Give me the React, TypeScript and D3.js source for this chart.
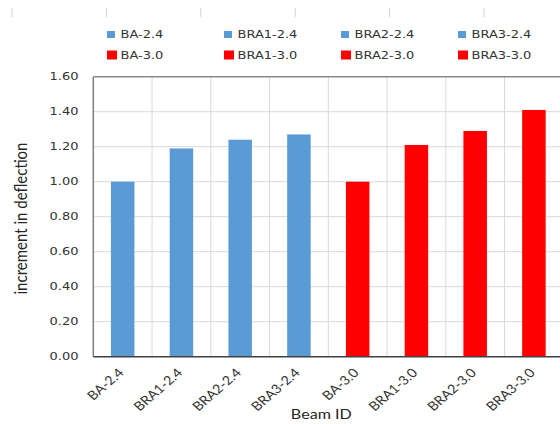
import React from "react";
import * as d3 from "d3";

// Beam deflection increments, normalised to the reference beam (BA)
const beams = ["BA-2.4", "BRA1-2.4", "BRA2-2.4", "BRA3-2.4", "BA-3.0", "BRA1-3.0", "BRA2-3.0", "BRA3-3.0"];
const increments = [1.0, 1.19, 1.24, 1.27, 1.0, 1.21, 1.29, 1.41];
const groups = ["2.4", "2.4", "2.4", "2.4", "3.0", "3.0", "3.0", "3.0"];
const yTicks = [0, 0.2, 0.4, 0.6, 0.8, 1.0, 1.2, 1.4, 1.6];

const W = 560;
const H = 424;
const plot = { left: 93.3, right: 563.3, top: 76.7, bottom: 356.7 };
const SX = 1.15; // horizontal stretch of the lettering

const colour = d3.scaleOrdinal<string, string>().domain(["2.4", "3.0"]).range(["#5b9bd5", "#ff0000"]);

export default function App() {
  const x = d3.scaleBand<string>().domain(beams).range([plot.left, plot.right]).padding(0);
  const y = d3.scaleLinear().domain([0, 1.6]).range([plot.bottom, plot.top]);
  const bw = x.bandwidth() * 0.4;

  const legendCol = d3.scaleLinear().domain([0, 1]).range([107, 224]);
  const legendRow = d3.scaleLinear().domain([0, 1]).range([34.5, 55]);

  // faint stray tick marks across the top edge
  const topTicks = d3.range(6).map((i) => 12 + i * 94.4);

  return (
    <div style={{ position: "absolute", left: 0, top: 0, width: W, height: H, overflow: "hidden", background: "#fff" }}>
      <svg width={W} height={H} style={{ display: "block" }}>
        <rect width={W} height={H} fill="#fff" />

        {topTicks.map((tx, i) => (
          <line key={"tt" + i} x1={tx} x2={tx} y1={8} y2={17} stroke="#d2d2d2" strokeWidth={1} />
        ))}

        {/* horizontal gridlines */}
        {yTicks.slice(1, -1).map((t) => (
          <line key={"hg" + t} x1={plot.left} x2={plot.right} y1={y(t)} y2={y(t)} stroke="#d9d9d9" strokeWidth={1} />
        ))}
        {/* vertical gridlines at category boundaries */}
        {beams.slice(1).map((b) => (
          <line key={"vg" + b} x1={x(b)!} x2={x(b)!} y1={plot.top} y2={plot.bottom} stroke="#d9d9d9" strokeWidth={1} />
        ))}

        {/* bars */}
        {beams.map((b, i) => (
          <rect
            key={"bar" + b}
            x={x(b)! + x.bandwidth() / 2 - bw / 2}
            y={y(increments[i])}
            width={bw}
            height={y(0) - y(increments[i])}
            fill={colour(groups[i])}
          />
        ))}

        {/* frame */}
        <line x1={plot.left} x2={plot.right} y1={plot.top} y2={plot.top} stroke="#8a8a8a" strokeWidth={1.5} />
        <line x1={plot.left} x2={plot.left} y1={plot.top} y2={plot.bottom} stroke="#7f7f7f" strokeWidth={1.5} />
        <line x1={plot.left} x2={plot.right} y1={plot.bottom} y2={plot.bottom} stroke="#404040" strokeWidth={1.5} />

        {/* y tick labels */}
        {yTicks.map((t) => (
          <text
            key={"yl" + t}
            transform={`translate(78.5,${y(t)}) scale(${SX},1)`}
            textAnchor="end"
            dominantBaseline="central"
            fontFamily="DejaVu Sans, Verdana, sans-serif"
            fontSize={11.3}
            fill="#333"
          >
            {d3.format(".2f")(t)}
          </text>
        ))}

        {/* x tick labels */}
        {beams.map((b) => (
          <text
            key={"xl" + b}
            transform={`translate(${x(b)! + x.bandwidth() / 2 + 2},${plot.bottom + 17}) scale(${SX},1) rotate(-45)`}
            textAnchor="end"
            fontFamily="Lato, 'Open Sans', sans-serif"
            fontSize={12.5}
            fill="#333"
          >
            {b}
          </text>
        ))}

        {/* axis titles */}
        <text
          transform={`translate(${(plot.left + plot.right) / 2 - 7},${419}) scale(${SX},1)`}
          textAnchor="middle"
          fontFamily="Lato, 'Open Sans', sans-serif"
          fontSize={14}
          fill="#262626"
        >
          Beam ID
        </text>
        <text
          transform={`translate(27,${218.5}) scale(${SX},1) rotate(-90)`}
          textAnchor="middle"
          fontFamily="Lato, 'Open Sans', sans-serif"
          fontSize={15}
          fill="#262626"
        >
          increment in deflection
        </text>

        {/* legend */}
        {beams.map((b, i) => {
          const col = i % 4;
          const row = Math.floor(i / 4);
          const lx = legendCol(col);
          const ly = legendRow(row);
          const sw = row === 0 ? 8 : 10;
          const sh = row === 0 ? 7 : 9;
          return (
            <g key={"lg" + b}>
              <rect x={lx} y={ly - sh / 2} width={sw} height={sh} fill={colour(groups[i])} />
              <text
                transform={`translate(${lx + 13.5},${ly}) scale(${SX},1)`}
                dominantBaseline="central"
                fontFamily="DejaVu Sans, Verdana, sans-serif"
                fontSize={11.3}
                fill="#333"
              >
                {b}
              </text>
            </g>
          );
        })}
      </svg>
    </div>
  );
}
